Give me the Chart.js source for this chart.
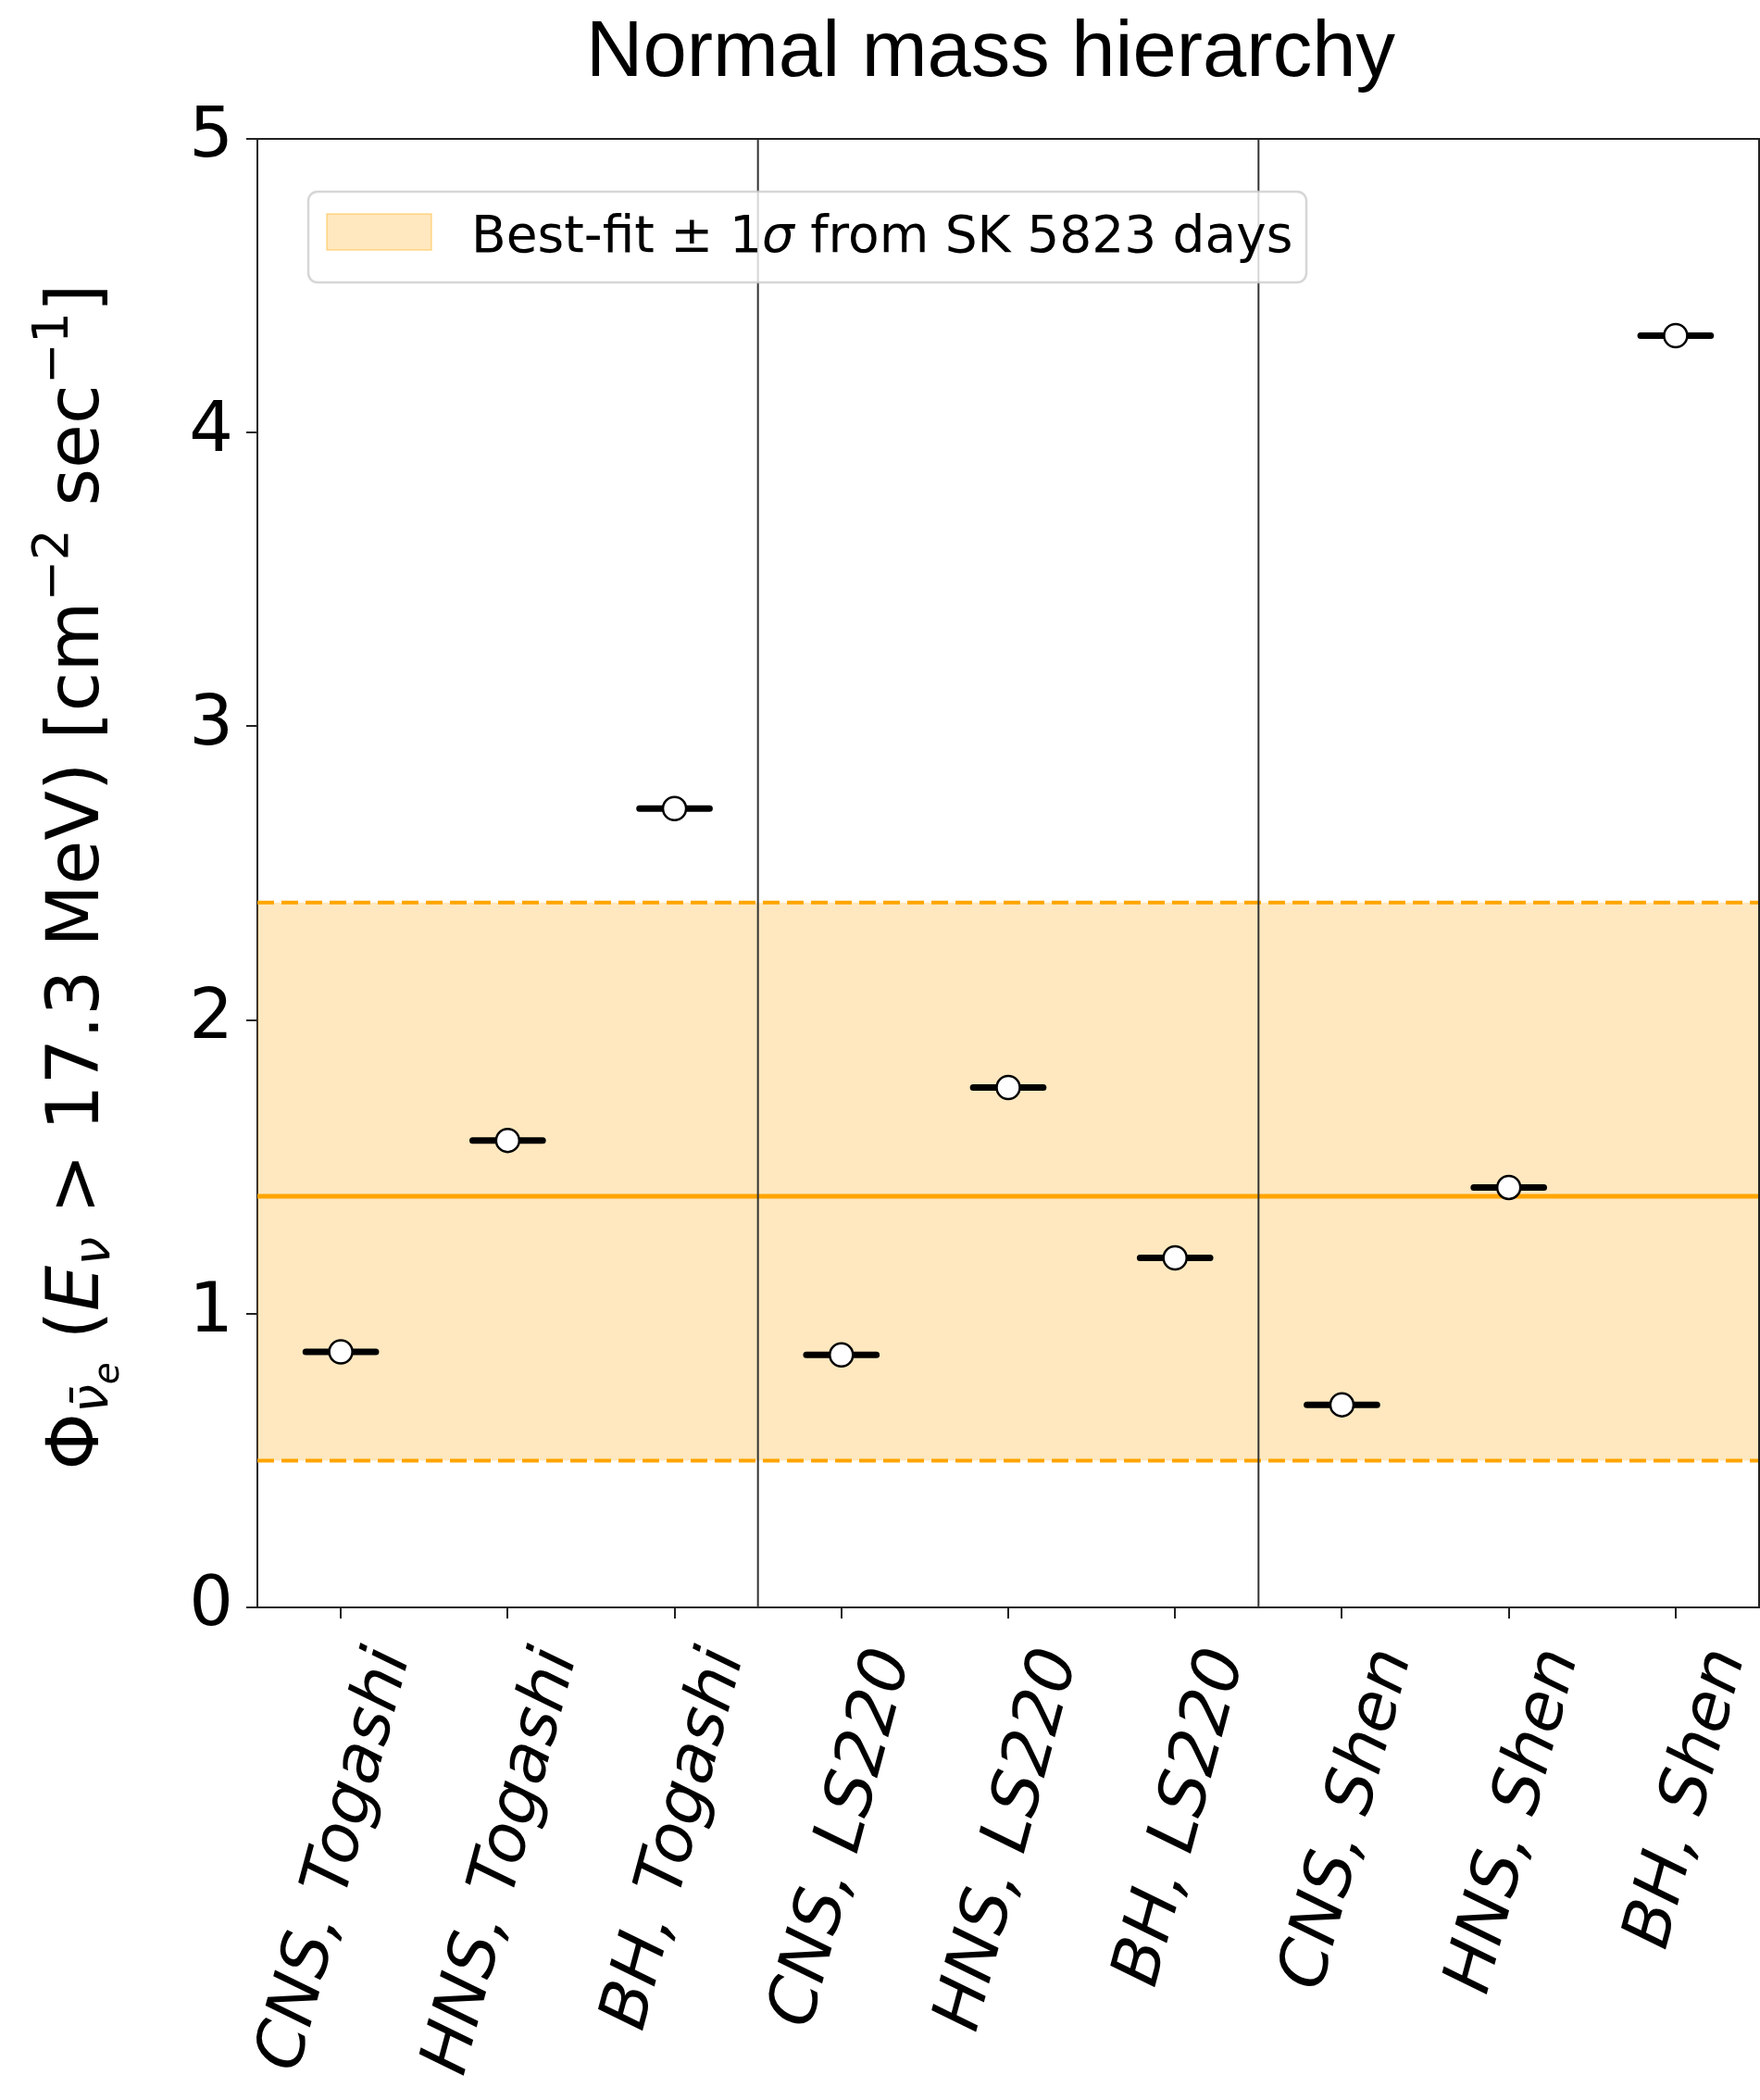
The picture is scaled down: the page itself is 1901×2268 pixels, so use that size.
<!DOCTYPE html>
<html>
<head>
<meta charset="utf-8">
<title>Normal mass hierarchy</title>
<script src="https://cdn.jsdelivr.net/npm/chart.js@4.4.0/dist/chart.umd.min.js"></script>
<style>
    html, body { margin: 0; padding: 0; background: #fff; overflow: hidden; }
    #wrap { width: 1901px; height: 2268px; }
</style>
</head>
<body>
<div id="wrap"><canvas id="fluxChart" width="1901" height="2268"></canvas></div>
<script>
// --- data ---
const models = ['CNS, Togashi', 'HNS, Togashi', 'BH, Togashi',
                'CNS, LS220', 'HNS, LS220', 'BH, LS220',
                'CNS, Shen', 'HNS, Shen', 'BH, Shen'];
const fluxValues = [0.87, 1.59, 2.72, 0.86, 1.77, 1.19, 0.69, 1.43, 4.33];
const xErrors = [0.21, 0.21, 0.21, 0.21, 0.21, 0.21, 0.21, 0.21, 0.21];
const bestFit = [1.40];
const bestFitBand = [0.50, 2.40];   // -1 sigma, +1 sigma
const groupEdges = [2.5, 5.5];
const xLimits = [-0.5, 8.5];
const yLimits = [0, 5];
const yTicks = [0, 1, 2, 3, 4, 5];

const ORANGE = '#ffa500';
const BAND_FILL = 'rgba(255, 165, 0, 0.25)';
const AXIS = '#222';

// horizontal line across the whole x range
function hLine(y) {
    return [{ x: xLimits[0], y: y }, { x: xLimits[1], y: y }];
}

// vertical separators between the EOS groups, broken by null points
const separatorData = [];
groupEdges.forEach(x => {
    separatorData.push({ x: x, y: yLimits[0] }, { x: x, y: yLimits[1] }, { x: x, y: null });
});

// horizontal error bars, one segment per model
const errorBarData = [];
fluxValues.forEach((v, i) => {
    errorBarData.push({ x: i - xErrors[i], y: v }, { x: i + xErrors[i], y: v }, { x: i, y: null });
});

const pointData = fluxValues.map((v, i) => ({ x: i, y: v }));

// --- plugins ---
// top and right spines
const frame = {
    id: 'frame',
    afterDatasetsDraw(chart) {
        const { ctx, chartArea: a } = chart;
        ctx.save();
        ctx.strokeStyle = AXIS;
        ctx.lineWidth = 2;
        ctx.beginPath();
        ctx.moveTo(a.left, a.top);
        ctx.lineTo(a.right, a.top);
        ctx.lineTo(a.right, a.bottom);
        ctx.stroke();
        ctx.restore();
    }
};

// title centred like the original (slightly left of the axes centre)
const plotTitle = {
    id: 'plotTitle',
    afterDraw(chart) {
        const { ctx } = chart;
        ctx.save();
        ctx.font = '85px "Liberation Sans", Arial, sans-serif';
        ctx.fillStyle = '#000';
        ctx.textAlign = 'center';
        ctx.textBaseline = 'alphabetic';
        ctx.fillText('Normal mass hierarchy', 1070, 82);
        ctx.restore();
    }
};

// legend box inside the axes, upper left
const boxLegend = {
    id: 'boxLegend',
    afterDatasetsDraw(chart) {
        const { ctx, chartArea: a } = chart;
        const x = a.left + 55, y = a.top + 57, w = 1078, h = 98;
        ctx.save();
        ctx.beginPath();
        ctx.roundRect(x, y, w, h, 10);
        ctx.fillStyle = 'rgba(255, 255, 255, 0.8)';
        ctx.fill();
        ctx.strokeStyle = 'rgba(204, 204, 204, 0.8)';
        ctx.lineWidth = 2.5;
        ctx.stroke();

        ctx.fillStyle = BAND_FILL;
        ctx.fillRect(x + 20, y + 24, 113, 39);
        ctx.strokeStyle = 'rgba(255, 165, 0, 0.3)';
        ctx.lineWidth = 2;
        ctx.strokeRect(x + 20, y + 24, 113, 39);

        const label = chart.data.datasets[1].label;
        const cut = label.indexOf('\u03c3');
        const parts = [
            { text: label.slice(0, cut), italic: false },
            { text: '\u03c3', italic: true },
            { text: label.slice(cut + 1), italic: false }
        ];
        ctx.fillStyle = '#000';
        ctx.textBaseline = 'middle';
        let tx = x + 176;
        parts.forEach(p => {
            ctx.font = (p.italic ? 'italic ' : '') + '55px "DejaVu Sans"';
            ctx.fillText(p.text, tx, y + h / 2 + 2);
            tx += ctx.measureText(p.text).width;
        });
        ctx.restore();
    }
};

// y axis title with sub- and superscripts
const yTitle = {
    id: 'yTitle',
    afterDraw(chart) {
        const { ctx, chartArea: a } = chart;
        const fs = 78;
        const parts = [
            { text: '\u03a6', k: 1, dy: 0 },
            { text: '\u03bd\u0304', k: 0.7, dy: 0.13, italic: true },
            { text: 'e', k: 0.5, dy: 0.28, italic: true },
            { text: ' (', k: 1, dy: 0 },
            { text: 'E', k: 1, dy: 0, italic: true },
            { text: '\u03bd', k: 0.7, dy: 0.15, italic: true },
            { text: ' > 17.3 MeV) [cm', k: 1, dy: 0 },
            { text: '\u22122', k: 0.68, dy: -0.42 },
            { text: ' sec', k: 1, dy: 0 },
            { text: '\u22121', k: 0.68, dy: -0.42 },
            { text: ']', k: 1, dy: 0 }
        ];
        const fontFor = p => (p.italic ? 'italic ' : '') + Math.round(fs * p.k) + 'px "DejaVu Sans"';
        ctx.save();
        let total = 0;
        parts.forEach(p => { ctx.font = fontFor(p); total += ctx.measureText(p.text).width; });
        ctx.translate(106, (a.top + a.bottom) / 2 + 4);
        ctx.rotate(-Math.PI / 2);
        ctx.fillStyle = '#000';
        ctx.textBaseline = 'alphabetic';
        let tx = -total / 2;
        parts.forEach(p => {
            ctx.font = fontFor(p);
            ctx.fillText(p.text, tx, p.dy * fs);
            tx += ctx.measureText(p.text).width;
        });
        ctx.restore();
    }
};

// --- chart ---
new Chart(document.getElementById('fluxChart'), {
    type: 'line',
    data: {
        datasets: [
            {
                label: 'band low',
                data: hLine(bestFitBand[0]),
                borderColor: ORANGE, borderWidth: 4, borderDash: [18, 8],
                pointRadius: 0, fill: false, order: 6
            },
            {
                label: 'Best-fit \u00b1 1\u03c3 from SK 5823 days',
                data: hLine(bestFitBand[1]),
                borderColor: ORANGE, borderWidth: 4, borderDash: [18, 8],
                backgroundColor: BAND_FILL,
                pointRadius: 0, fill: '-1', order: 5
            },
            {
                label: 'best fit',
                data: hLine(bestFit[0]),
                borderColor: ORANGE, borderWidth: 5,
                pointRadius: 0, fill: false, order: 4
            },
            {
                label: 'separators',
                data: separatorData,
                borderColor: '#333', borderWidth: 2,
                pointRadius: 0, fill: false, spanGaps: false, order: 3
            },
            {
                label: 'x errors',
                data: errorBarData,
                borderColor: '#000', borderWidth: 7, borderCapStyle: 'round',
                pointRadius: 0, fill: false, spanGaps: false, order: 2
            },
            {
                label: 'models',
                data: pointData,
                showLine: false,
                pointRadius: 12.5, pointBorderWidth: 2.5,
                pointBackgroundColor: '#fff', pointBorderColor: '#000',
                order: 1
            }
        ]
    },
    options: {
        responsive: false,
        devicePixelRatio: 1,
        animation: false,
        events: [],
        layout: { autoPadding: false, padding: { top: 150, right: 1 } },
        plugins: {
            legend: { display: false },
            tooltip: { enabled: false },
            title: { display: false }
        },
        scales: {
            x: {
                type: 'linear',
                min: xLimits[0],
                max: xLimits[1],
                afterBuildTicks: scale => { scale.ticks = models.map((m, i) => ({ value: i })); },
                afterFit: scale => { scale.height = 532; scale.paddingRight = 0; },
                grid: { drawOnChartArea: false, color: AXIS, lineWidth: 2, tickLength: 12 },
                border: { color: AXIS, width: 2 },
                ticks: {
                    autoSkip: false,
                    minRotation: 75,
                    maxRotation: 75,
                    labelOffset: 56,
                    padding: 24,
                    color: '#000',
                    font: { family: '"DejaVu Sans"', size: 72, style: 'italic' },
                    callback: value => models[value]
                }
            },
            y: {
                min: yLimits[0],
                max: yLimits[1],
                afterBuildTicks: scale => { scale.ticks = yTicks.map(v => ({ value: v })); },
                afterFit: scale => { scale.width = 278; scale.paddingTop = 0; },
                grid: { drawOnChartArea: false, color: AXIS, lineWidth: 2, tickLength: 12 },
                border: { color: AXIS, width: 2 },
                ticks: {
                    padding: 14,
                    color: '#000',
                    font: { family: '"DejaVu Sans"', size: 75 }
                }
            }
        }
    },
    plugins: [frame, boxLegend, yTitle, plotTitle]
});
</script>
</body>
</html>
